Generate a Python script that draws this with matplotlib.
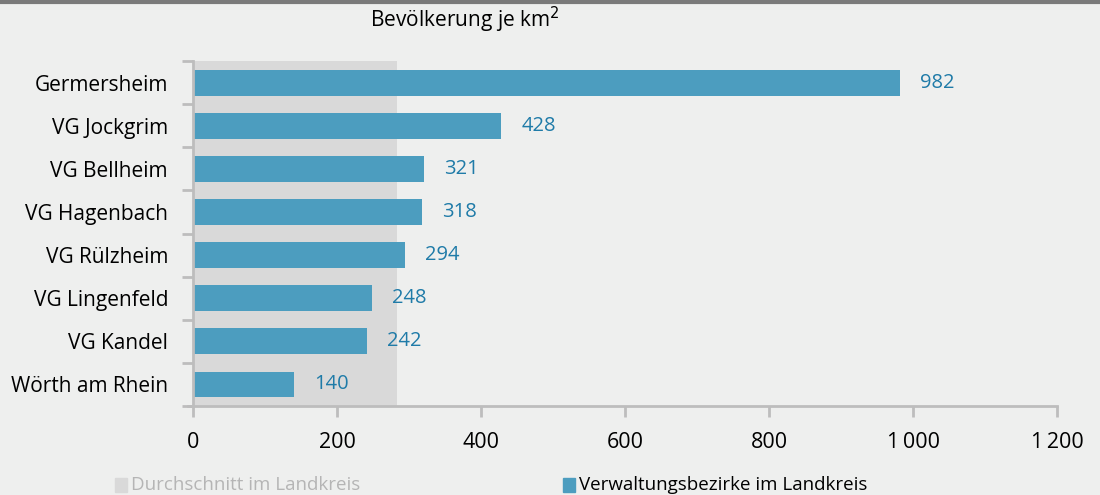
import numpy as np
import matplotlib.pyplot as plt
from matplotlib.patches import Rectangle

plt.rcParams['font.family'] = ['Open Sans', 'DejaVu Sans']

# data
regions = ['Germersheim', 'VG Jockgrim', 'VG Bellheim', 'VG Hagenbach',
           'VG Rülzheim', 'VG Lingenfeld', 'VG Kandel', 'Wörth am Rhein']
density = [982, 428, 321, 318, 294, 248, 242, 140]
avg_landkreis = 283
xticks = [0, 200, 400, 600, 800, 1000, 1200]
xticklabels = ['0', '200', '400', '600', '800', '1\u2009000', '1\u2009200']

bg = '#eeefee'
blue = '#4c9dbf'
lbl_col = '#1f7ba8'
avg_col = '#d9d9d9'
ax_col = '#bdbdbd'

fig = plt.figure(figsize=(11, 4.95), dpi=100, facecolor=bg)
ax = fig.add_axes([193/1100, 1-406/495, 864/1100, 345/495])
ax.set_facecolor(bg)

n = len(regions)
y = np.arange(n)
ax.barh(y, [avg_landkreis]*n, height=1.0, color=avg_col, zorder=1)
ax.barh(y, density, height=0.6, color=blue, zorder=2)
for yi, v in zip(y, density):
    ax.text(v + 28, yi, str(v), va='center', ha='left', color=lbl_col, fontsize=14.5)

ax.set_xlim(0, 1200)
ax.set_ylim(n - 0.5, -0.5)
ax.set_xticks(xticks)
ax.set_xticklabels(xticklabels, fontsize=15.5)
ax.set_yticks(y)
ax.set_yticklabels(regions, fontsize=15)
ax.tick_params(axis='y', length=0, pad=18)
ax.set_yticks(np.arange(n + 1) - 0.5, minor=True)
ax.tick_params(axis='y', which='minor', length=8, color=ax_col, width=2, direction='out')
ax.tick_params(axis='x', length=8, color=ax_col, width=2, pad=11)

for s in ['top', 'right']:
    ax.spines[s].set_visible(False)
ax.spines['left'].set_color(ax_col)
ax.spines['bottom'].set_color(ax_col)
ax.spines['left'].set_linewidth(2)
ax.spines['bottom'].set_linewidth(2)
ax.spines['bottom'].set_bounds(-7, 1200)

fig.text(465/1100, 1-20/495, 'Bevölkerung je km$^2$', ha='center', va='center', fontsize=15)

# top rule
fig.add_artist(plt.Line2D([0, 1], [1-1.5/495, 1-1.5/495], color='#7a7a7a', lw=3))

# legend
fig.add_artist(Rectangle((115/1100, 1-492/495), 12/1100, 14/495, color=avg_col,
                         transform=fig.transFigure))
fig.text(131/1100, 1-485/495, 'Durchschnitt im Landkreis', color='#b5b5b5',
         va='center', ha='left', fontsize=13.5)
fig.add_artist(Rectangle((563/1100, 1-492/495), 12/1100, 14/495, color=blue,
                         transform=fig.transFigure))
fig.text(579/1100, 1-485/495, 'Verwaltungsbezirke im Landkreis', color='black',
         va='center', ha='left', fontsize=13.5)

fig.savefig('out.png', dpi=100, facecolor=bg)
